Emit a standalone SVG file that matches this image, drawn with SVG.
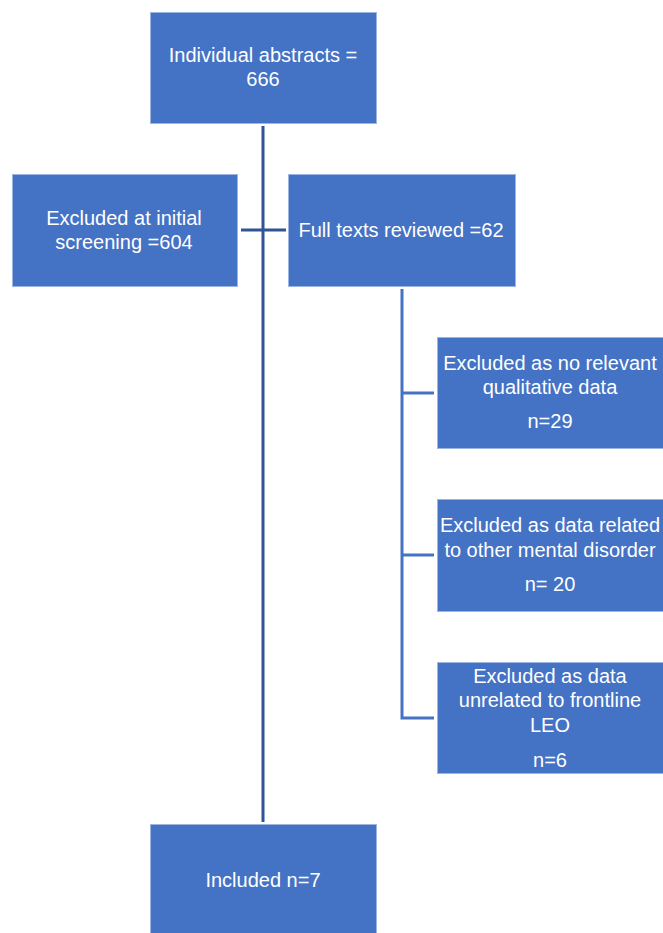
<svg xmlns="http://www.w3.org/2000/svg" width="663" height="933" viewBox="0 0 663 933">
<style>
.box{fill:#4472C4;stroke:#9DB5E2;stroke-width:1}
.t{font-family:"Liberation Sans",Arial,sans-serif;font-size:20px;fill:#ffffff;text-anchor:middle}
.main{stroke:#2F5597;stroke-width:3;fill:none}
.branch{stroke:#4472C4;stroke-width:3;fill:none}
</style>
<rect width="663" height="933" fill="#ffffff"/>
<g id="connectors">
<line class="main" x1="263" y1="126" x2="263" y2="822"/>
<line class="main" x1="241" y1="230" x2="286" y2="230"/>
<polyline class="branch" points="402,289 402,718 434,718"/>
<line class="branch" x1="402" y1="393" x2="434" y2="393"/>
<line class="branch" x1="402" y1="555" x2="434" y2="555"/>
</g>
<g id="abstracts">
<rect class="box" x="150.5" y="12.5" width="226" height="111"/>
<text class="t" x="263" y="62">Individual abstracts =</text>
<text class="t" x="263" y="86">666</text>
</g>
<g id="excluded-initial">
<rect class="box" x="12.5" y="174.5" width="225" height="112"/>
<text class="t" x="124" y="225">Excluded at initial</text>
<text class="t" x="124" y="249">screening =604</text>
</g>
<g id="full-texts">
<rect class="box" x="288.5" y="174.5" width="227" height="112"/>
<text class="t" x="401" y="237">Full texts reviewed =62</text>
</g>
<g id="excluded-qualitative">
<rect class="box" x="437.5" y="337.5" width="226" height="111"/>
<text class="t" x="550" y="370">Excluded as no relevant</text>
<text class="t" x="550" y="394">qualitative data</text>
<text class="t" x="550" y="428">n=29</text>
</g>
<g id="excluded-other">
<rect class="box" x="437.5" y="499.5" width="226" height="112"/>
<text class="t" x="550" y="532">Excluded as data related</text>
<text class="t" x="550" y="557">to other mental disorder</text>
<text class="t" x="550" y="591">n= 20</text>
</g>
<g id="excluded-leo">
<rect class="box" x="437.5" y="662.5" width="226" height="111"/>
<text class="t" x="550" y="683">Excluded as data</text>
<text class="t" x="550" y="707">unrelated to frontline</text>
<text class="t" x="550" y="732">LEO</text>
<text class="t" x="550" y="767">n=6</text>
</g>
<g id="included">
<rect class="box" x="150.5" y="824.5" width="226" height="110"/>
<text class="t" x="263" y="887">Included n=7</text>
</g>
</svg>
